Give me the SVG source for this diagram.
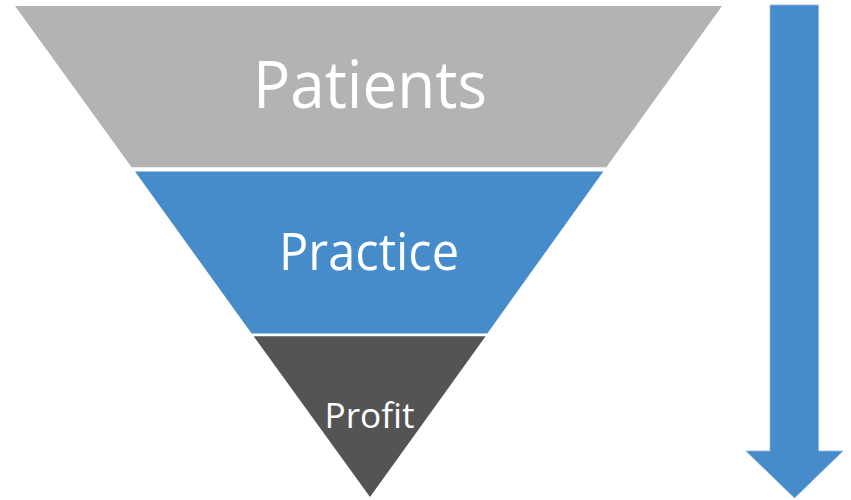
<svg xmlns="http://www.w3.org/2000/svg" width="851" height="500" viewBox="0 0 851 500">
  <style>
    .lbl { font-family: "Open Sans", "Liberation Sans", sans-serif; fill: #ffffff; text-anchor: middle; }
  </style>
  <rect width="851" height="500" fill="#ffffff"/>
  <g id="patients">
    <polygon points="15,6 722,6 606.3,167.3 131.6,167.3" fill="#b3b3b3"/>
    <text class="lbl" x="370" y="108" font-size="66" textLength="234" lengthAdjust="spacingAndGlyphs">Patients</text>
  </g>
  <g id="practice">
    <polygon points="135,171.5 603.3,171.5 487.3,333.5 251.6,333.5" fill="#468ccb"/>
    <text class="lbl" x="369" y="270" font-size="51" textLength="180" lengthAdjust="spacingAndGlyphs">Practice</text>
  </g>
  <g id="profit">
    <polygon points="253.6,336.3 485.6,336.3 370,497" fill="#545454"/>
    <text class="lbl" x="369.5" y="428" font-size="35" textLength="90" lengthAdjust="spacingAndGlyphs">Profit</text>
  </g>
  <g id="connectors">
    <polygon points="770,5 818.5,5 818.5,451 843,451 794.5,498 746,451 770,451" fill="#468ccb" stroke="#8ab8e2" stroke-width="0.8" stroke-linejoin="miter"/>
  </g>
</svg>
